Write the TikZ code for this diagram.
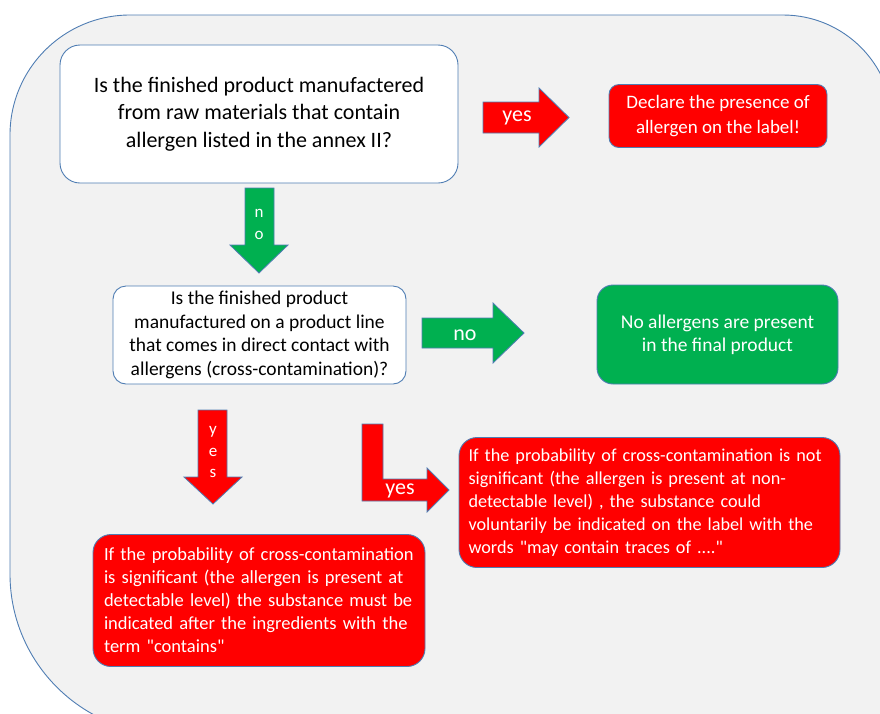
\documentclass[tikz,border=0pt]{standalone}
\usepackage{fontspec}
\setmainfont{Carlito}[Ligatures=TeXOff]
\definecolor{bgfill}{HTML}{F2F2F2}
\definecolor{edge}{HTML}{4F7DB3}
\definecolor{redf}{HTML}{FF0000}
\definecolor{greenf}{HTML}{00B050}
\tikzset{
  box/.style={draw=edge, line width=0.9pt, inner sep=0pt, align=center},
  whitebox/.style={box, fill=white, text=black},
  redbox/.style={box, fill=redf, text=white},
  greenbox/.style={box, fill=greenf, text=white},
  blockarrow/.style={draw=edge, line width=0.8pt, line join=miter},
  arrlabel/.style={text=white, inner sep=0pt, font=\fontsize{22}{26}\selectfont},
  vlabel/.style={text=white, inner sep=0pt, font=\fontsize{17}{20}\selectfont}
}
\begin{document}
\begin{tikzpicture}[x=1pt,y=-1pt]
\useasboundingbox (0,0) rectangle (880,713);
\clip (0,0) rectangle (880,713);
% background panel
\draw[draw=edge, fill=bgfill, line width=0.9pt]
  (10,135) .. controls (10,68.7) and (63.7,15) .. (130,15)
  -- (783,15) .. controls (843.75,15) and (893,64.25) .. (893,125)
  -- (893,740) -- (170,734)
  .. controls (81.6,734) and (10,662.4) .. (10,574) -- cycle;

% boxes
\node[whitebox, rounded corners=20pt, minimum width=398pt, minimum height=138pt,
  font=\fontsize{22}{27.5}\selectfont] (q1) at (259,114)
  {Is the finished product manufactered\\from raw materials that contain\\allergen listed in the annex II?};
\node[redbox, rounded corners=10pt, minimum width=218pt, minimum height=63pt,
  font=\fontsize{19}{25}\selectfont] (decl) at (718,116)
  {Declare the presence of\\allergen on the label!};
\node[whitebox, rounded corners=13pt, minimum width=293pt, minimum height=98pt,
  font=\fontsize{19.5}{23.5}\selectfont] (q2) at (259.5,335)
  {Is the finished product\\manufactured on a product line\\that comes in direct contact with\\allergens (cross-contamination)?};
\node[greenbox, rounded corners=16pt, minimum width=241pt, minimum height=99pt,
  font=\fontsize{19.5}{23}\selectfont] (none) at (717.5,334.5)
  {No allergens are present\\in the final product};
\node[redbox, rounded corners=18pt, minimum width=381pt, minimum height=130pt,
  align=left, text width=368pt, font=\fontsize{18.2}{23}\selectfont] (notsig) at (649.5,502.5)
  {\hspace*{3pt}If the probability of cross-contamination is not\\\hspace*{3pt}significant (the allergen is present at non-\\\hspace*{3pt}detectable level) , the substance could\\\hspace*{3pt}voluntarily be indicated on the label with the\\\hspace*{3pt}words "may contain traces of ...."};
\node[redbox, rounded corners=18pt, minimum width=332pt, minimum height=132pt,
  align=left, text width=310pt, font=\fontsize{18.5}{23}\selectfont] (sig) at (259,600.5)
  {If the probability of cross-contamination\\is significant (the allergen is present at\\detectable level) the substance must be\\indicated after the ingredients with the\\term "contains"};

% block arrows
\draw[blockarrow, fill=redf] (483,102) -- (539,102) -- (539,88) -- (569,117.5) -- (539,147) -- (539,133) -- (483,133) -- cycle;
\node[arrlabel] (yes1) at (517,118) {yes};

\draw[blockarrow, fill=greenf] (245,188) -- (274,188) -- (274,245) -- (288,245) -- (259,273) -- (230,245) -- (245,245) -- cycle;
\node[vlabel] (n1) at (259,213) {n};
\node[vlabel] (o1) at (259,235) {o};

\draw[blockarrow, fill=greenf] (422,318) -- (493,318) -- (493,303) -- (524,333) -- (493,363) -- (493,348) -- (422,348) -- cycle;
\node[arrlabel] (no2) at (465,335) {no};

\draw[blockarrow, fill=redf] (198,410) -- (227,410) -- (227,477) -- (242,477) -- (213,504) -- (184,477) -- (198,477) -- cycle;
\node[vlabel] (y3) at (213,432) {y};
\node[vlabel] (e3) at (213,452) {e};
\node[vlabel] (s3) at (213,473) {s};

\draw[blockarrow, fill=redf] (362,424) -- (383,424) -- (383,479) -- (427,479) -- (427,468) -- (449,490) -- (427,512) -- (427,501) -- (362,501) -- cycle;
\node[arrlabel] (yes4) at (400,491) {yes};
\end{tikzpicture}
\end{document}
